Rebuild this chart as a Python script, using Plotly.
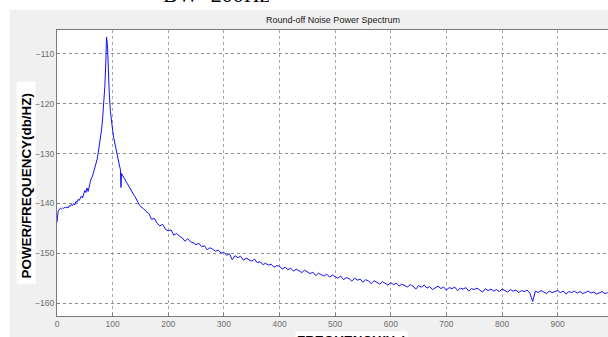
import plotly.graph_objects as go

# ---- data ----
freq_low = [0, 2, 4, 6, 8, 10, 12, 14, 16, 18, 20, 22, 24, 26, 28, 30, 32, 34, 36, 38,
            40, 42, 44, 46, 48, 50, 52, 54, 56, 58, 60, 62, 64, 66, 68, 70, 72, 74, 76, 78,
            80, 82, 84, 86, 88, 89, 90, 91, 92, 94, 96, 98, 100, 102, 104, 106, 108, 110,
            112, 114, 115, 116, 118, 120, 122, 124, 126, 128, 130, 132, 134, 136, 138, 140,
            142, 144, 146, 148, 150]
psd_low = [-143.8, -141.6, -141.2, -141.0, -141.1, -140.9, -141.0, -140.8, -140.9, -140.7,
           -140.9, -140.5, -140.6, -140.2, -140.4, -140.0, -140.3, -139.6, -139.8, -139.2,
           -139.4, -138.8, -138.5, -138.9, -137.9, -137.4, -137.8, -136.9, -137.6, -136.4,
           -135.6, -134.9, -134.5, -133.6, -132.9, -132.0, -131.2, -129.9, -128.5, -127.0,
           -125.3, -123.0, -120.2, -116.5, -111.0, -106.6, -107.5, -109.0, -112.5, -118.0,
           -121.5, -123.8, -125.3, -126.8, -128.0, -129.5, -130.6, -131.5, -132.3, -133.2,
           -136.8, -134.0, -134.4, -134.8, -135.3, -135.6, -136.0, -136.4, -137.0, -137.2,
           -137.6, -137.9, -138.3, -138.6, -139.1, -139.6, -139.8, -140.3, -140.6]

freq_high = [155, 160, 165, 170, 175, 180, 185, 190, 195, 200, 205, 210, 215, 220, 225, 230,
             235, 240, 245, 250, 255, 260, 265, 270, 275, 280, 285, 290, 295, 300, 305, 310,
             315, 320, 325, 330, 335, 340, 345, 350, 355, 360, 365, 370, 375, 380, 385, 390,
             395, 400, 405, 410, 415, 420, 425, 430, 435, 440, 445, 450, 455, 460, 465, 470,
             475, 480, 485, 490, 495, 500, 505, 510, 515, 520, 525, 530, 535, 540, 545, 550,
             555, 560, 565, 570, 575, 580, 585, 590, 595, 600, 605, 610, 615, 620, 625, 630,
             635, 640, 645, 650, 655, 660, 665, 670, 675, 680, 685, 690, 695, 700, 705, 710,
             715, 720, 725, 730, 735, 740, 745, 750, 755, 760, 765, 770, 775, 780, 785, 790,
             795, 800, 805, 810, 815, 820, 825, 830, 835, 840, 845, 850, 855, 860, 865, 870,
             875, 880, 885, 890, 895, 900, 905, 910, 915, 920, 925, 930, 935, 940, 945, 950,
             955, 960, 965, 970, 975, 980, 985, 990]
psd_high = [-141.0, -141.6, -142.0, -143.2, -143.0, -144.0, -144.5, -144.2, -145.2, -145.5,
            -145.3, -146.4, -146.0, -146.6, -146.9, -147.6, -147.1, -147.7, -147.9, -148.3,
            -148.0, -148.7, -148.5, -149.3, -148.9, -149.2, -149.6, -149.4, -150.0, -149.8,
            -150.4, -150.1, -151.3, -150.5, -150.9, -150.6, -151.4, -151.0, -151.3, -151.6,
            -151.2, -151.9, -151.7, -152.3, -152.0, -152.4, -152.2, -152.8, -152.5, -152.6,
            -153.2, -152.8, -153.3, -153.0, -153.6, -153.2, -153.5, -153.9, -153.4, -153.7,
            -154.1, -153.8, -154.5, -154.0, -154.3, -154.6, -154.2, -154.8, -154.4, -154.7,
            -155.0, -154.6, -155.3, -154.9, -155.1, -155.6, -155.0, -155.4, -155.2, -155.8,
            -155.3, -155.6, -156.1, -155.5, -155.9, -156.2, -155.7, -156.0, -156.4, -155.9,
            -156.3, -156.0, -156.6, -156.2, -156.5, -156.8, -156.3, -156.6, -157.2, -156.5,
            -156.8, -156.4, -157.0, -156.7, -157.3, -156.9, -156.6, -157.1, -156.8, -157.4,
            -156.9, -157.1, -156.8, -157.5, -157.0, -157.2, -156.9, -157.6, -157.1, -157.3,
            -157.0, -157.4, -157.8, -157.1, -157.5, -157.2, -157.6, -157.3, -157.7, -157.2,
            -157.5, -157.8, -157.3, -157.6, -157.4, -157.9, -157.5, -157.7, -157.4, -158.0,
            -159.7, -157.6, -157.9, -157.5, -157.8, -158.1, -157.6, -157.9, -157.7, -157.5,
            -157.9, -157.6, -158.2, -157.7, -157.9, -157.6, -158.0, -157.7, -158.1, -157.8,
            -157.6, -158.0, -157.8, -158.2, -157.9, -157.7, -158.1, -157.9]

x_ticks = [0, 100, 200, 300, 400, 500, 600, 700, 800, 900]
y_ticks = [-160, -150, -140, -130, -120, -110]

title_text = "Round-off Noise Power Spectrum"
top_text = "BW=200Hz"
x_label = "FREQUENCY(Hz)"
y_label = "POWER/FREQUENCY(db/HZ)"

freq = freq_low + freq_high
psd = psd_low + psd_high

# ---- figure ----
W, H = 608, 337
L, T, B = 57.3, 30.3, 337 - 316.3
pw, ph = W - L, H - T - B


def px(x):
    return (x - L) / pw


def py(y):
    return (H - B - y) / ph


fig = go.Figure()
fig.add_trace(go.Scatter(x=freq, y=psd, mode="lines",
                         line=dict(color="#1010FF", width=1), hoverinfo="skip"))

grey_txt = "#6E6E6E"
fig.update_layout(
    width=W, height=H,
    margin=dict(l=L, r=0, t=T, b=B, pad=0),
    paper_bgcolor="#F0F0F0",
    plot_bgcolor="white",
    showlegend=False,
    font=dict(family="Liberation Sans, Arial", size=8, color=grey_txt),
    xaxis=dict(range=[0, pw / 0.556], tickvals=x_ticks, ticks="inside", ticklen=3,
               tickcolor="#808080", showline=True, linecolor="#7A7A7A", linewidth=1,
               mirror=True, showgrid=True, gridcolor="#A8A8A8", griddash="dot",
               gridwidth=1, zeroline=False, automargin=False,
               tickfont=dict(size=8.5, color=grey_txt)),
    yaxis=dict(range=[-162.6, -105.2], tickvals=y_ticks, ticks="inside", ticklen=3,
               tickcolor="#808080", showline=True, linecolor="#7A7A7A", linewidth=1,
               mirror=False, showgrid=True, gridcolor="#8C8C8C", griddash="dot",
               gridwidth=1, zeroline=False, automargin=False,
               tickfont=dict(size=8.5, color=grey_txt)),
    shapes=[
        # white strips outside the grey figure window
        dict(type="rect", xref="paper", yref="paper", x0=px(-5), x1=px(W + 5),
             y0=py(10), y1=py(-5), fillcolor="white", line=dict(width=0), layer="below"),
        dict(type="rect", xref="paper", yref="paper", x0=px(-5), x1=px(10),
             y0=py(H + 5), y1=py(-5), fillcolor="white", line=dict(width=0), layer="below"),
        # white box behind y label
        dict(type="rect", xref="paper", yref="paper", x0=px(17), x1=px(36),
             y0=py(284), y1=py(82), fillcolor="white", line=dict(width=0), layer="below"),
    ],
    annotations=[
        dict(text=title_text, xref="paper", yref="paper", x=px(333), y=py(20),
             xanchor="center", yanchor="middle", showarrow=False,
             font=dict(size=9, color="#202020", family="Liberation Sans, Arial")),
        dict(text=top_text, xref="paper", yref="paper", x=px(161), y=py(9),
             xanchor="left", yanchor="bottom", showarrow=False,
             font=dict(size=22, color="black", family="Liberation Serif, Times New Roman")),
        dict(text="<b>" + y_label + "</b>", xref="paper", yref="paper", x=px(27), y=py(186),
             xanchor="center", yanchor="middle", textangle=-90, showarrow=False,
             font=dict(size=13.4, color="black", family="Liberation Sans, Arial")),
        dict(text="<b>" + x_label + "</b>", xref="paper", yref="paper", x=px(295), y=py(331),
             xanchor="left", yanchor="top", showarrow=False, bgcolor="white",
             font=dict(size=13.4, color="black", family="Liberation Sans, Arial")),
    ],
)

fig.write_html("out.html", config={"displayModeBar": False},
               post_script="document.body.style.margin='0px';"
                           "document.body.style.overflow='hidden';")
